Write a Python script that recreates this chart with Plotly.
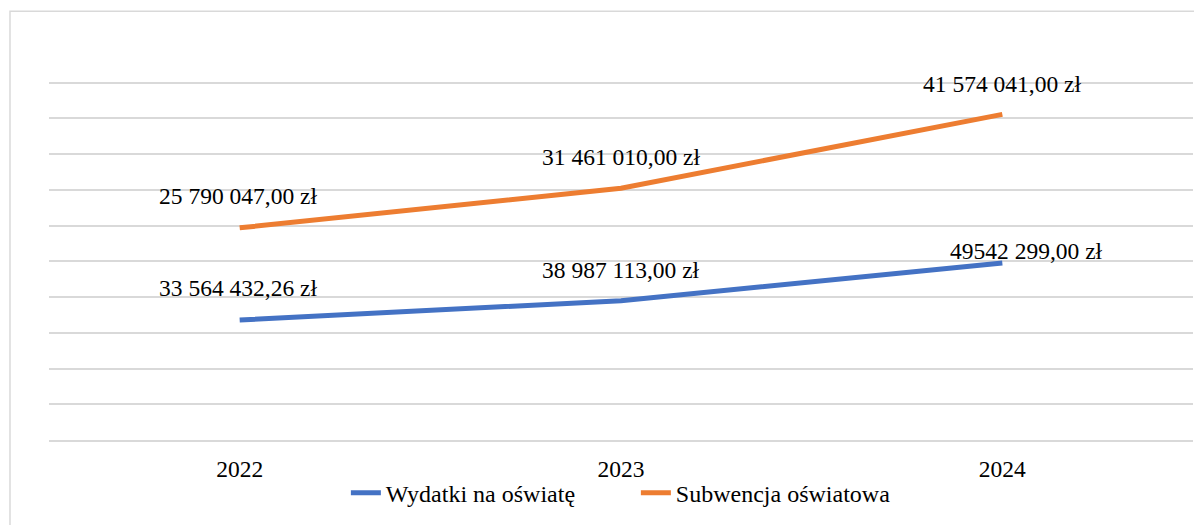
import plotly.graph_objects as go

# dane
lata = ["2022", "2023", "2024"]
wydatki = [33564432.26, 38987113.00, 49542299.00]
subwencja = [25790047.00, 31461010.00, 41574041.00]
etykiety_wydatki = ["33 564 432,26 zł", "38 987 113,00 zł", "49542 299,00 zł"]
etykiety_subwencja = ["25 790 047,00 zł", "31 461 010,00 zł", "41 574 041,00 zł"]

FONT = "Liberation Serif, Times New Roman, serif"
GRID = "#d9d9d9"

fig = go.Figure()
# wykres liniowy skumulowany (jak w Excelu)
fig.add_trace(go.Scatter(x=lata, y=wydatki, name="Wydatki na oświatę", mode="lines",
                         stackgroup="one", fill="none",
                         line=dict(color="#4472C4", width=5)))
fig.add_trace(go.Scatter(x=lata, y=subwencja, name="Subwencja oświatowa", mode="lines",
                         stackgroup="one", fill="none",
                         line=dict(color="#ED7D31", width=5)))

# etykiety danych nad punktami
suma = [w + s for w, s in zip(wydatki, subwencja)]
shifts_w = [(-2, 32), (0, 31), (24, 12)]
shifts_s = [(-2, 32), (0, 31), (0, 30)]
for i in range(len(lata)):
    fig.add_annotation(x=i, y=wydatki[i], text=etykiety_wydatki[i], showarrow=False,
                       xshift=shifts_w[i][0], yshift=shifts_w[i][1],
                       font=dict(family=FONT, size=23.5, color="black"))
    fig.add_annotation(x=i, y=suma[i], text=etykiety_subwencja[i], showarrow=False,
                       xshift=shifts_s[i][0], yshift=shifts_s[i][1],
                       font=dict(family=FONT, size=23.5, color="black"))

# ramka obszaru wykresu (strona ma 8px marginesu body)
fig.add_shape(type="rect", xref="paper", yref="paper",
              x0=-0.0341, x1=1.05, y0=-0.3, y1=1.188,
              line=dict(color=GRID, width=1.5), fillcolor="rgba(0,0,0,0)", layer="below")

fig.update_layout(
    width=1202, height=525,
    margin=dict(l=41, r=17, t=71, b=93, autoexpand=False),
    paper_bgcolor="white", plot_bgcolor="white",
    font=dict(family=FONT, size=23.5, color="black"),
    showlegend=True,
    legend=dict(orientation="h", x=0.513, xanchor="center", y=-0.147, yanchor="middle",
                bgcolor="rgba(0,0,0,0)", entrywidth=245,
                font=dict(family=FONT, size=24), traceorder="normal"),
    xaxis=dict(type="category", range=[-0.5, 2.5], showgrid=False, ticks="",
               showline=True, linecolor=GRID, linewidth=1.5, ticklabelstandoff=7,
               tickfont=dict(family=FONT, size=23.5)),
    yaxis=dict(range=[0, 101000000], dtick=10000000, showticklabels=False,
               showgrid=True, gridcolor=GRID, gridwidth=1.5, zeroline=False),
)

fig.write_html("out.html")
